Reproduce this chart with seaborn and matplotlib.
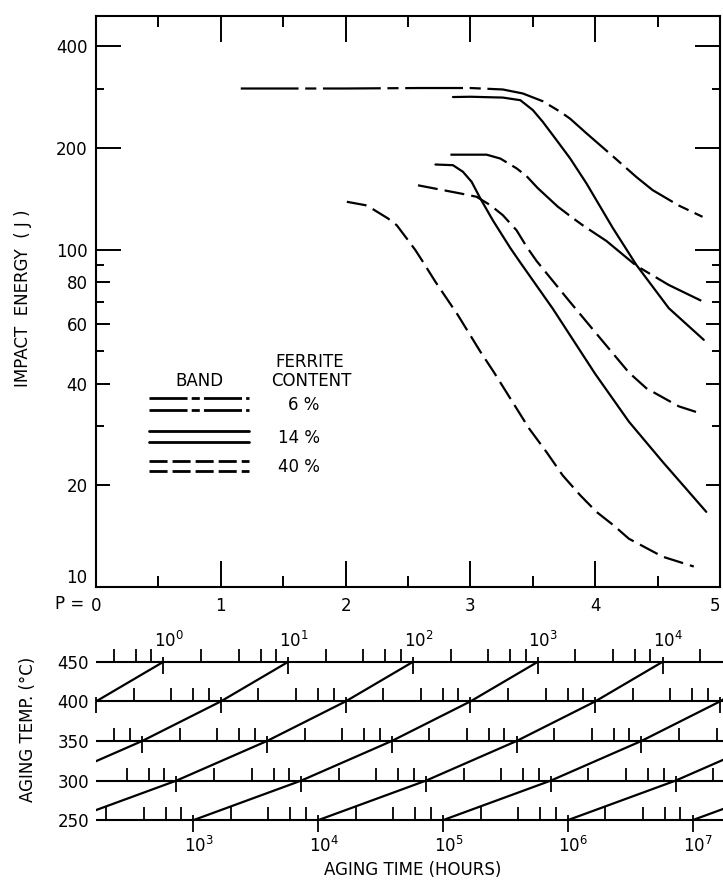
import numpy as np
import pandas as pd
import matplotlib
matplotlib.use("Agg")
import matplotlib.pyplot as plt
from matplotlib.lines import Line2D
from matplotlib.ticker import NullFormatter
import seaborn as sns

W, H = 723, 886

# impact energy bands, P parameter vs energy (J)
p_6_hi = [1.16, 2.0, 2.6, 3.00, 3.26, 3.42, 3.58, 3.72, 3.80, 3.93, 4.12, 4.33, 4.46, 4.67, 4.86]
e_6_hi = [300, 300, 301, 301, 298, 290, 275, 256, 244, 221, 192, 164, 150, 135, 125]
p_6_lo = [2.84, 3.13, 3.24, 3.37, 3.45, 3.54, 3.70, 3.82, 3.90, 4.09, 4.33, 4.59, 4.85]
e_6_lo = [191, 191, 186, 174, 165, 152, 134, 124, 118, 106, 89.5, 78.5, 70.5]
p_14_hi = [2.86, 3.00, 3.26, 3.40, 3.50, 3.58, 3.69, 3.80, 3.93, 4.04, 4.14, 4.33, 4.59, 4.87]
e_14_hi = [283, 283.6, 282, 277, 259, 239, 211, 186, 157, 134, 116, 90, 67, 54]
p_14_lo = [2.72, 2.86, 2.94, 3.01, 3.08, 3.18, 3.32, 3.40, 3.66, 4.00, 4.27, 4.54, 4.89]
e_14_lo = [178.6, 177.8, 170, 158.7, 141.6, 122, 101, 91.5, 66.8, 42.8, 30.9, 23.5, 16.7]
p_40_hi = [2.58, 2.78, 2.92, 3.05, 3.16, 3.26, 3.37, 3.45, 3.53, 3.79, 4.06, 4.27, 4.41, 4.67, 4.81]
e_40_hi = [155, 150, 146.6, 143.3, 135.3, 126.4, 114, 102, 92.5, 70.5, 53.5, 43.2, 38.8, 34.3, 33.0]
p_40_lo = [2.01, 2.16, 2.22, 2.34, 2.41, 2.49, 2.56, 2.62, 2.72, 2.81, 2.90, 3.08, 3.19,
           3.47, 3.61, 3.74, 3.88, 4.01, 4.15, 4.27, 4.54, 4.79]
e_40_lo = [138.5, 135.3, 131.6, 123.6, 118, 107.8, 99.5, 91.9, 80.2, 71.6, 63.9, 49.8, 43.2,
           29.5, 25.1, 21.4, 18.7, 16.7, 15.2, 13.9, 12.3, 11.5]

# nomograph: aging temperatures and the P value where 1 hour falls on each line
temps = [450, 400, 350, 300, 250]
p_at_1h = [0.54, 0.0, -0.63, -1.355, -2.22]

y_ticks = [10, 20, 40, 60, 80, 100, 200, 400]
y_minor = [30, 50, 70, 90, 300]
x_labels = ["0", "1", "2", "3", "4", "5"]

curves = [("6_hi", "6 %", p_6_hi, e_6_hi), ("6_lo", "6 %", p_6_lo, e_6_lo),
          ("14_hi", "14 %", p_14_hi, e_14_hi), ("14_lo", "14 %", p_14_lo, e_14_lo),
          ("40_hi", "40 %", p_40_hi, e_40_hi), ("40_lo", "40 %", p_40_lo, e_40_lo)]
df = pd.concat([pd.DataFrame({"P": p, "E": e, "curve": c, "ferrite": f})
                for c, f, p, e in curves], ignore_index=True)

sns.set_style("ticks")
plt.rcParams["font.family"] = ["DejaVu Sans"]
plt.rcParams["mathtext.default"] = "regular"
for k in ["text.color", "axes.labelcolor", "xtick.color", "ytick.color", "axes.edgecolor"]:
    plt.rcParams[k] = "black"

fig = plt.figure(figsize=(W / 100, H / 100), dpi=100)

def fx(px):
    return px / W

def fy(py):
    return 1 - py / H

# --- top panel: impact energy ---
ax = fig.add_axes([fx(96), fy(587), (720 - 96) / W, (587 - 16) / H])
dash_map = {"6 %": (26, 3, 5, 3), "14 %": "", "40 %": (9, 3.2)}
sns.lineplot(data=df, x="P", y="E", units="curve", estimator=None, style="ferrite",
             dashes=dash_map, color="black", lw=1.6, sort=False, legend=False, ax=ax)
ax.set_yscale("log")
ax.set_ylim(10, 492)
ax.set_xlim(0, 5)
ax.set_xlabel("")
ax.set_ylabel("")
ax.set_yticks(y_ticks, labels=[str(v) for v in y_ticks])
ax.set_yticks(y_minor, minor=True)
ax.yaxis.set_minor_formatter(NullFormatter())
ax.set_xticks(range(6), labels=x_labels)
ax.set_xticks(np.arange(0.5, 5, 1.0), minor=True)
ax.tick_params(which="both", direction="in", left=True, right=True, top=True,
               bottom=True, width=1.4, color="black", labelsize=12, labelcolor="black")
ax.tick_params(axis="y", which="major", length=10, pad=6)
ax.tick_params(axis="y", which="minor", length=6)
ax.tick_params(axis="x", which="major", length=19, pad=7)
ax.tick_params(axis="x", which="minor", length=8)
for tick, v in zip(ax.yaxis.get_major_ticks(), y_ticks):
    if v >= 100:
        tick.tick1line.set_markersize(18)
        tick.tick2line.set_markersize(18)
ax.get_yticklabels()[0].set_va("bottom")
ax.get_xticklabels()[-1].set_ha("right")
for s in ax.spines.values():
    s.set_linewidth(1.5)
    s.set_color("black")

fig.text(fx(84), fy(604), "P =", ha="right", va="center", fontsize=12)
fig.text(fx(23), fy(298), "IMPACT  ENERGY  ( J )", rotation=90, ha="center",
         va="center", fontsize=12)

# legend drawn by hand: two lines per band
fig.text(fx(199), fy(381), "BAND", ha="center", va="center", fontsize=12)
fig.text(fx(310), fy(362), "FERRITE", ha="center", va="center", fontsize=12)
fig.text(fx(311), fy(381), "CONTENT", ha="center", va="center", fontsize=12)
legend_ls = {"6 %": (0, (13.7, 1.5, 2.9, 1.5)), "14 %": "-", "40 %": (0, (6.5, 1.8))}
legend_y = {"6 %": (398, 410), "14 %": (431, 442), "40 %": (460.5, 471)}
legend_lab = {"6 %": (304, 405), "14 %": (299, 438), "40 %": (299, 467)}
for key in ["6 %", "14 %", "40 %"]:
    for yy in legend_y[key]:
        fig.add_artist(Line2D([fx(149), fx(249)], [fy(yy), fy(yy)], color="black",
                              lw=2.0, linestyle=legend_ls[key]))
    lx, ly = legend_lab[key]
    fig.text(fx(lx), fy(ly), key, ha="center", va="center", fontsize=12)

# --- bottom panel: temperature / time nomograph ---
ax2 = fig.add_axes([fx(96), fy(836), (W - 96) / W, (836 - 646) / H])
p_max = (W - 96) / 124.8
ax2.set_xlim(0, p_max)
ax2.set_ylim(230, 470)
for s in ax2.spines.values():
    s.set_visible(False)
ax2.set_xticks([])
ax2.set_yticks(temps, labels=[str(t) for t in temps])
ax2.tick_params(axis="y", length=0, pad=5, labelsize=12, labelcolor="black")

ax2.hlines(temps, 0, p_max, color="black", lw=1.5, clip_on=False)
for T, off in zip(temps, p_at_1h):
    minor_p, dec_p = [], []
    for n in range(-1, 9):
        d = off + n
        if -0.01 <= d <= p_max:
            dec_p.append(d)
        for m in [2, 4, 6, 8]:
            p = d + np.log10(m)
            if 0 <= p <= p_max:
                minor_p.append(p)
    ax2.vlines(minor_p, T, T + 16.5, color="black", lw=1.3, clip_on=False)
    ax2.vlines(dec_p, T - 15, T + 6, color="black", lw=1.3, clip_on=False)

iso = pd.concat([pd.DataFrame({"P": [o + n for o in p_at_1h], "T": temps, "hours": n})
                 for n in range(0, 8)], ignore_index=True)
sns.lineplot(data=iso, x="P", y="T", units="hours", estimator=None, color="black",
             lw=1.6, sort=False, legend=False, ax=ax2)
ax2.set_xlabel("")
ax2.set_ylabel("")

for n in range(0, 5):
    ax2.annotate(rf"$10^{{{n}}}$", xy=(p_at_1h[0] + n, 450), xytext=(4, 8),
                 textcoords="offset points", ha="center", va="bottom", fontsize=12)
for n in range(3, 8):
    ax2.annotate(rf"$10^{{{n}}}$", xy=(p_at_1h[-1] + n, 250), xytext=(4, -11),
                 textcoords="offset points", ha="center", va="top", fontsize=12)

fig.text(fx(28), fy(729), "AGING TEMP. (°C)", rotation=90, ha="center", va="center",
         fontsize=12)
fig.text(fx(413), fy(870), "AGING TIME (HOURS)", ha="center", va="center", fontsize=12)

fig.savefig("out.png", dpi=100)
